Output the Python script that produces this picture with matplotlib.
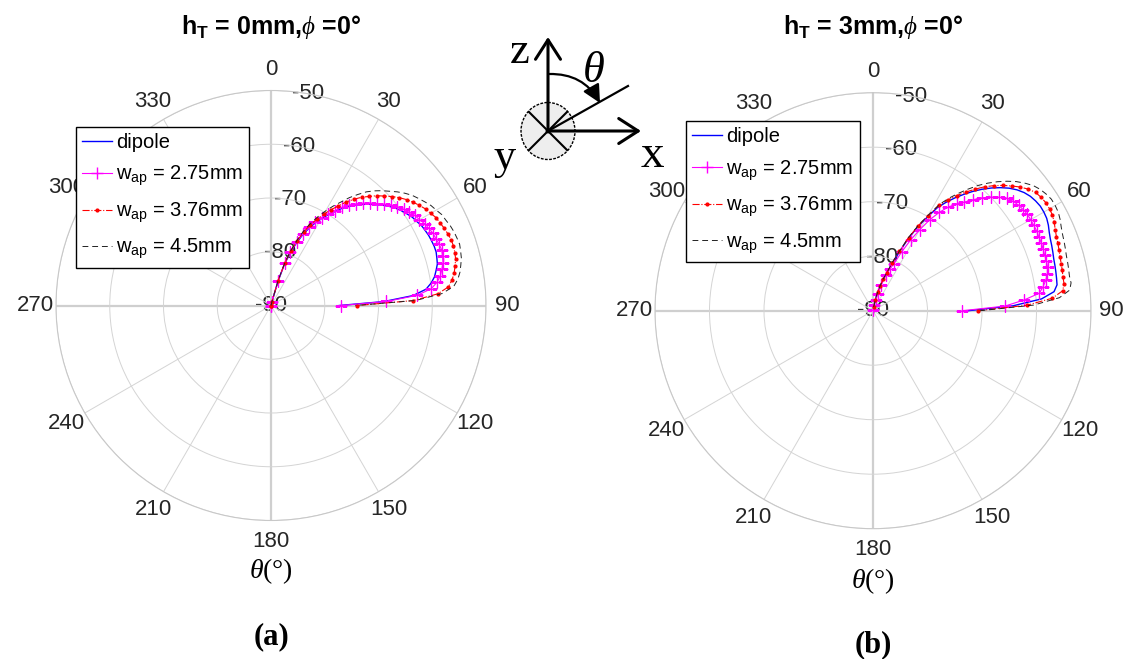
import numpy as np
import matplotlib
matplotlib.use("Agg")
import matplotlib.pyplot as plt
from matplotlib.patches import Ellipse, FancyArrowPatch

plt.rcParams['font.family'] = ['Liberation Sans', 'DejaVu Sans']
plt.rcParams['mathtext.fontset'] = 'custom'
plt.rcParams['mathtext.rm'] = 'Liberation Sans'
plt.rcParams['mathtext.bf'] = 'Liberation Sans:bold'
plt.rcParams['mathtext.it'] = 'Liberation Serif:italic'

# theta (deg) shared by all curves
theta_deg = [10, 12, 14, 16, 18, 20, 22, 24, 26, 28, 30, 32, 34, 36, 38, 40,
             42, 44, 46, 48, 50, 52, 54, 56, 58, 60, 62, 64, 66, 68, 70, 72,
             74, 76, 78, 80, 82, 84, 86, 88, 90]

# (a) h_T = 0mm
a_dipole = [-90.0, -90.0, -89.5, -85.5, -82.0, -79.7, -77.6, -75.7, -74.1, -72.7, -71.4,
            -70.2, -69.0, -67.7, -66.6, -65.6, -64.7, -63.8, -63.0, -62.1, -61.3, -60.6,
            -60.0, -59.5, -59.0, -58.7, -58.3, -58.1, -57.9, -57.8, -57.7, -57.7, -57.9,
            -58.1, -58.6, -59.1, -59.9, -61.0, -63.5, -69.0, -77.3]
a_w275 = [-90.0, -90.0, -89.3, -85.2, -81.7, -79.4, -77.3, -75.4, -73.8, -72.4, -71.1,
          -69.9, -68.7, -67.4, -66.3, -65.3, -64.4, -63.5, -62.7, -61.8, -60.9, -60.2,
          -59.5, -59.0, -58.4, -58.1, -57.6, -57.3, -57.0, -56.9, -56.7, -56.6, -56.8,
          -57.0, -57.5, -58.0, -58.8, -60.0, -62.7, -68.5, -77.0]
a_w376 = [-90.0, -90.0, -89.3, -85.2, -81.6, -79.2, -77.0, -75.0, -73.3, -71.8, -70.4,
          -69.0, -67.7, -66.2, -64.9, -63.7, -62.7, -61.6, -60.7, -59.7, -58.8, -58.0,
          -57.3, -56.7, -56.1, -55.7, -55.2, -55.0, -54.7, -54.5, -54.3, -54.3, -54.4,
          -54.6, -55.0, -55.4, -56.0, -56.8, -58.9, -63.5, -74.0]
a_w45 = [-90.0, -90.0, -89.2, -85.0, -81.4, -78.9, -76.6, -74.5, -72.8, -71.2, -69.7,
         -68.2, -66.8, -65.2, -63.8, -62.4, -61.3, -60.3, -59.4, -58.4, -57.5, -56.7,
         -56.1, -55.5, -54.9, -54.5, -54.0, -53.8, -53.5, -53.3, -53.2, -53.1, -53.3,
         -53.5, -53.9, -54.3, -54.9, -55.8, -58.1, -63.0, -74.3]

# (b) h_T = 3mm
b_dipole = [-89.5, -88.0, -86.6, -85.4, -84.0, -82.7, -80.8, -78.4, -75.4, -72.7, -70.3,
            -67.7, -66.0, -64.4, -62.9, -61.4, -60.0, -58.7, -57.5, -56.4, -55.5, -54.8,
            -54.3, -54.0, -53.8, -53.8, -53.9, -54.2, -54.6, -54.9, -55.1, -55.3, -55.5,
            -55.6, -55.7, -55.8, -55.9, -56.6, -59.0, -64.3, -72.5]
b_w275 = [-89.8, -89.0, -88.0, -86.8, -85.0, -83.0, -81.8, -80.6, -78.0, -75.3, -72.8,
          -70.3, -68.2, -66.5, -65.1, -64.0, -62.6, -61.2, -60.0, -58.9, -57.9, -57.4,
          -57.0, -56.8, -56.6, -56.6, -56.6, -56.6, -56.7, -56.7, -56.8, -56.9, -56.9,
          -57.0, -57.3, -57.8, -58.5, -59.3, -62.3, -65.8, -73.6]
b_w376 = [-89.4, -87.9, -86.5, -85.3, -83.9, -82.6, -80.5, -78.1, -75.1, -72.4, -70.0,
          -67.2, -65.5, -63.9, -62.4, -60.9, -59.4, -58.1, -56.9, -55.8, -54.7, -53.8,
          -53.1, -52.8, -52.6, -52.6, -52.7, -53.0, -53.4, -53.7, -53.9, -54.1, -54.3,
          -54.4, -54.5, -54.6, -54.6, -55.0, -57.0, -61.8, -70.7]
b_w45 = [-89.3, -87.8, -86.4, -85.2, -83.8, -82.5, -80.3, -77.9, -74.9, -72.2, -69.8,
         -67.0, -65.1, -63.4, -61.7, -60.0, -58.5, -57.1, -55.8, -54.6, -53.6, -52.7,
         -52.1, -51.7, -51.4, -51.4, -51.5, -51.8, -52.2, -52.5, -52.7, -52.9, -53.1,
         -53.2, -53.3, -53.4, -53.3, -53.7, -55.7, -60.5, -70.3]

labels = ['dipole', r'$\mathrm{w_{ap}}$ = 2.75mm',
          r'$\mathrm{w_{ap}}$ = 3.76mm', r'$\mathrm{w_{ap}}$ = 4.5mm']
theta_ticks = [0, 30, 60, 90, 120, 150, 180, 210, 240, 270, 300, 330]
r_ticks = [-90, -80, -70, -60, -50]

TXT = '#262626'
GRID = '#d4d4d4'


def polar_panel(fig, rect, series, title, legend_xy, title_y, lab_y, sub_y, sub, r_lab):
    ax = fig.add_axes(rect, projection='polar')
    ax.set_theta_zero_location('N')
    ax.set_theta_direction(-1)
    ax.set_rlim(-90, -50)
    ax.set_thetagrids(theta_ticks)
    ax.set_rticks(r_ticks)
    ax.set_xticklabels([])
    ax.set_yticklabels([])
    ax.grid(True, color=GRID, lw=0.7)
    for i, gl in enumerate(ax.xaxis.get_gridlines()):
        if i % 3 == 0:
            gl.set_linewidth(1.6)
            gl.set_color('#cfcfcf')
    ax.spines['polar'].set_color('#c8c8c8')
    ax.spines['polar'].set_linewidth(0.8)
    ax.tick_params(length=0)

    th = np.deg2rad(theta_deg)
    d, w1, w2, w3 = series
    h1, = ax.plot(th, d, color='b', lw=1.0)
    h2, = ax.plot(th, w1, color='magenta', lw=0.8, marker='+', ms=8, mew=1.0)
    h3, = ax.plot(th, w2, color='red', lw=0.8, ls='-.', marker='.', ms=4)
    h4, = ax.plot(th, w3, color='#222222', lw=0.7, ls=(0, (6, 4)))

    for t in theta_ticks:
        ax.text(np.deg2rad(t), r_lab, str(t), ha='center', va='center',
                fontsize=16, color=TXT, clip_on=False)
    for r in r_ticks:
        ax.text(np.deg2rad(10), r, str(r), ha='center', va='center',
                fontsize=16, color=TXT, zorder=1)

    cx = rect[0] + rect[2] / 2
    fig.text(cx, title_y, title, ha='center', va='center', fontsize=18,
             fontweight='bold', color='black')
    fig.text(cx, lab_y, r'$\theta$(°)', ha='center', va='center', fontsize=20,
             family='Liberation Serif')
    fig.text(cx, sub_y, sub, ha='center', va='center', fontsize=22,
             family='Liberation Serif', fontweight='bold')
    fig.legend([h1, h2, h3, h4], labels, loc='upper left', bbox_to_anchor=legend_xy,
               fontsize=14.5, frameon=True, fancybox=False, edgecolor='black',
               framealpha=1, borderaxespad=0, handlelength=1.5, handletextpad=0.2,
               labelspacing=0.6, borderpad=0.3)
    return ax


W, H = 1128, 659
fig = plt.figure(figsize=(W / 100, H / 100), dpi=100)

polar_panel(fig, [56 / W, 1 - 520.5 / H, 430 / W, 430 / H],
            (a_dipole, a_w275, a_w376, a_w45),
            r'$\mathbf{h_T}$ = 0mm,$\phi$ =0°', (75.7 / W, 1 - 126.7 / H),
            1 - 27 / H, 1 - 571 / H, 1 - 637 / H, '(a)', -46.1)
polar_panel(fig, [655 / W, 1 - 528.7 / H, 436 / W, 436 / H],
            (b_dipole, b_w275, b_w376, b_w45),
            r'$\mathbf{h_T}$ = 3mm,$\phi$ =0°', (686 / W, 1 - 121 / H),
            1 - 27 / H, 1 - 581 / H, 1 - 645 / H, '(b)', -46.2)

# coordinate sketch in the middle, pixel coordinates
ov = fig.add_axes([0, 0, 1, 1], zorder=5)
ov.set_xlim(0, W)
ov.set_ylim(H, 0)
ov.axis('off')
ov.patch.set_visible(False)

ov.add_patch(Ellipse((548, 131), 54, 57, fc='#eeeeee', ec='black', lw=1.0, ls=(0, (2, 1))))
ov.plot([529, 567], [112, 150], color='black', lw=1.5)
ov.plot([529, 567], [150, 112], color='black', lw=1.5)
ov.annotate('', xy=(548, 37), xytext=(548, 132),
            arrowprops=dict(arrowstyle='->,head_length=0.7,head_width=0.45', lw=2.2,
                            color='black', mutation_scale=20, shrinkA=0, shrinkB=0))
ov.annotate('', xy=(641, 131), xytext=(547, 131),
            arrowprops=dict(arrowstyle='->,head_length=0.7,head_width=0.45', lw=2.2,
                            color='black', mutation_scale=20, shrinkA=0, shrinkB=0))
ov.plot([548, 628], [131, 86], color='black', lw=1.6)
ov.add_patch(FancyArrowPatch((549, 74), (600, 103), connectionstyle='arc3,rad=-0.3',
                             arrowstyle='-|>,head_length=0.6,head_width=0.3',
                             mutation_scale=18, lw=1.6, color='black',
                             shrinkA=0, shrinkB=0))
ov.text(520, 63, 'z', family='Liberation Serif', fontsize=32, ha='center', va='baseline')
ov.text(652, 167, 'x', family='Liberation Serif', fontsize=34, ha='center', va='baseline')
ov.text(505, 169, 'y', family='Liberation Serif', fontsize=32, ha='center', va='baseline')
ov.text(593, 82, r'$\theta$', fontsize=32, ha='center', va='baseline')

fig.savefig('out.png', dpi=100)
